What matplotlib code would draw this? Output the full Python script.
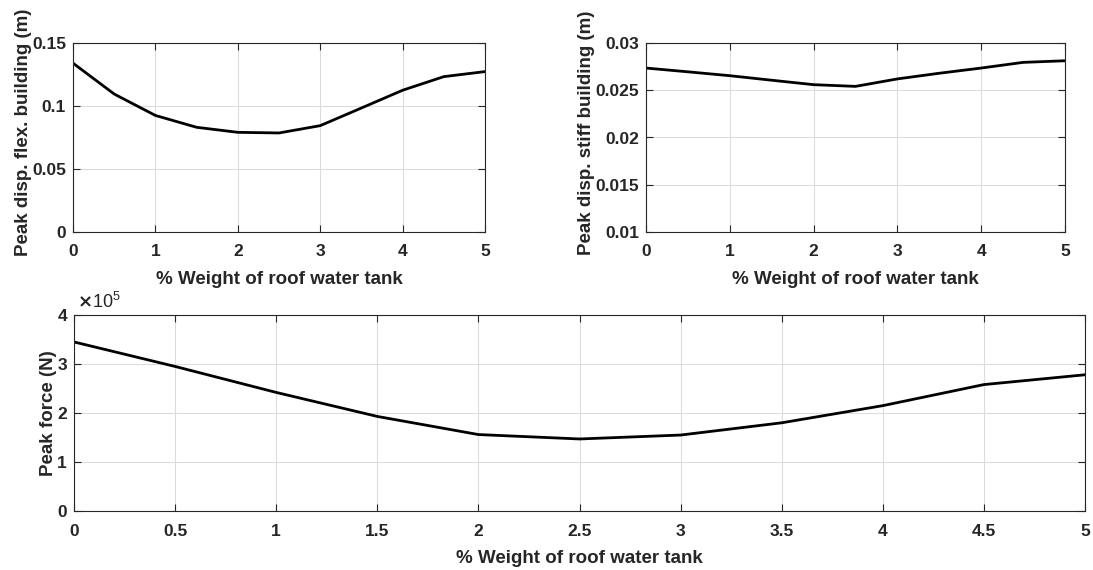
import numpy as np
import matplotlib
matplotlib.use("Agg")
import matplotlib.pyplot as plt

# tank weight (% of building weight)
weight_pct = [0, 0.5, 1, 1.5, 2, 2.5, 3, 3.5, 4, 4.5, 5]

# peak displacement of flexible building (m)
disp_flex = [0.134, 0.1095, 0.0925, 0.0831, 0.0791, 0.0786, 0.0844, 0.0984, 0.1125, 0.1233, 0.1273]

# peak displacement of stiff building (m)
disp_stiff = [0.02735, 0.02695, 0.02654, 0.02606, 0.02559, 0.02541, 0.02620, 0.02680, 0.02735, 0.02795, 0.02812]

# peak force (N)
peak_force = [3.45e5, 2.95e5, 2.42e5, 1.93e5, 1.56e5, 1.47e5, 1.55e5, 1.80e5, 2.15e5, 2.58e5, 2.78e5]

xlabel = "% Weight of roof water tank"

plt.rcParams["font.family"] = ["Liberation Sans", "DejaVu Sans"]
plt.rcParams["font.weight"] = "bold"
plt.rcParams["axes.labelweight"] = "bold"

W, H = 1093, 570
fig = plt.figure(figsize=(W / 100, H / 100), dpi=100)


def box(l, t, r, b):
    return [l / W, 1 - b / H, (r - l) / W, (b - t) / H]


ax1 = fig.add_axes(box(73, 43, 485, 232))
ax2 = fig.add_axes(box(646, 43, 1065, 232))
ax3 = fig.add_axes(box(74, 315, 1085, 511))

dark = "#262626"


def style(ax, ylabel, ypos=0.5):
    ax.grid(True, color="#dcdcdc", linewidth=0.8)
    ax.set_axisbelow(True)
    ax.tick_params(direction="in", top=True, right=True, colors=dark,
                   labelcolor=dark, length=5, width=0.8, labelsize=12.5)
    ax.tick_params(axis="x", pad=9)
    ax.tick_params(axis="y", pad=5)
    for s in ax.spines.values():
        s.set_color(dark)
        s.set_linewidth(0.8)
    ax.set_xlabel(xlabel, color=dark, fontsize=13.5, labelpad=8)
    ax.set_ylabel(ylabel, color=dark, fontsize=13.5, labelpad=0)
    ax.yaxis.label.set_y(ypos)


ax1.plot(weight_pct, disp_flex, color="black", linewidth=2)
ax1.set_xlim(0, 5)
ax1.set_ylim(0, 0.15)
ax1.set_yticks([0, 0.05, 0.1, 0.15])
ax1.set_yticklabels(["0", "0.05", "0.1", "0.15"])
style(ax1, "Peak disp. flex. building (m)", 0.525)

ax2.plot(weight_pct, disp_stiff, color="black", linewidth=2)
ax2.set_xlim(0, 5)
ax2.set_ylim(0.01, 0.03)
ax2.set_yticks([0.01, 0.015, 0.02, 0.025, 0.03])
ax2.set_yticklabels(["0.01", "0.015", "0.02", "0.025", "0.03"])
style(ax2, "Peak disp. stiff building (m)", 0.525)

ax3.plot(weight_pct, peak_force, color="black", linewidth=2)
ax3.set_xlim(0, 5)
ax3.set_ylim(0, 4e5)
ax3.set_xticks(np.arange(0, 5.01, 0.5))
ax3.set_xticklabels(["0", "0.5", "1", "1.5", "2", "2.5", "3", "3.5", "4", "4.5", "5"])
ax3.set_yticks([0, 1e5, 2e5, 3e5, 4e5])
ax3.set_yticklabels(["0", "1", "2", "3", "4"])
style(ax3, "Peak force (N)")
ax3.text(0.003, 1.015, r"$\times\mathregular{10^5}$", transform=ax3.transAxes, ha="left", va="bottom",
         fontsize=13, color=dark, fontweight="normal")

fig.savefig("out.png", dpi=100)
